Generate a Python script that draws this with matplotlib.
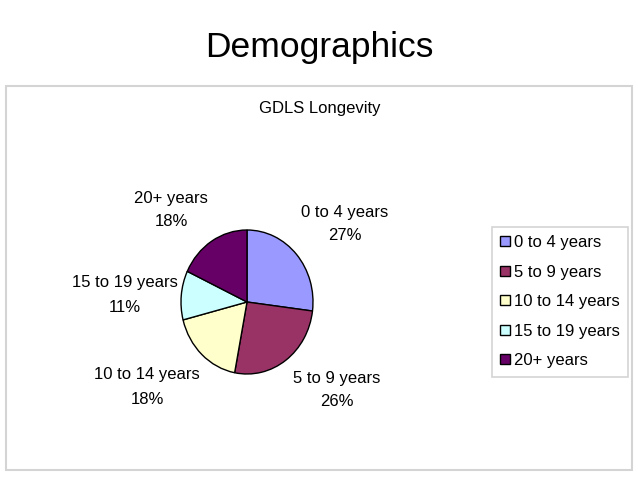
import matplotlib
matplotlib.use("Agg")
import matplotlib.pyplot as plt
from matplotlib.patches import Rectangle

plt.rcParams['font.family'] = ['Liberation Sans', 'DejaVu Sans']

# ---- data ----
categories = ["0 to 4 years", "5 to 9 years", "10 to 14 years", "15 to 19 years", "20+ years"]
percentages = [27, 26, 18, 11, 18]
colors = ["#9999FF", "#993366", "#FFFFCC", "#CCFFFF", "#660066"]
title = "Demographics"
subtitle = "GDLS Longevity"

# ---- layout (pixel coordinates in a 638x478 canvas) ----
W, H = 638, 478
label_centers = [(345, 224), (337, 390), (147, 387), (125, 295), (171, 210)]
pie_center = (247, 302)
pie_rx, pie_ry = 66, 72

def fx(x):
    return x / W

def fy(y):
    return 1 - y / H

fig = plt.figure(figsize=(6.38, 4.78), dpi=100)
fig.patch.set_facecolor("white")

# outer chart frame
fig.patches.append(Rectangle((fx(6), fy(470)), fx(632) - fx(6), fy(86) - fy(470),
                             transform=fig.transFigure, fill=False,
                             edgecolor="#d4d4d4", linewidth=1.5))

fig.text(fx(319), fy(48), title, ha="center", va="center", fontsize=25.5)
fig.text(fx(320), fy(108), subtitle, ha="center", va="center", fontsize=12)

ax = fig.add_axes([fx(pie_center[0] - pie_rx), fy(pie_center[1] + pie_ry),
                   2 * pie_rx / W, 2 * pie_ry / H])
wedges, _ = ax.pie(percentages, colors=colors, startangle=90, counterclock=False,
                   wedgeprops=dict(edgecolor="black", linewidth=1.0))
ax.set_aspect("auto")
ax.set_xlim(-1, 1)
ax.set_ylim(-1, 1)
ax.axis("off")

for cat, pct, (lx, ly) in zip(categories, percentages, label_centers):
    fig.text(fx(lx), fy(ly), f"{cat}\n{pct}%", ha="center", va="center",
             fontsize=12, linespacing=1.75, multialignment="center")

leg = fig.legend(wedges, categories, loc="upper left",
                 bbox_to_anchor=(fx(492), fy(227)),
                 bbox_transform=fig.transFigure,
                 fontsize=12, frameon=True, fancybox=False, framealpha=1,
                 edgecolor="#d4d4d4", handlelength=0.55, handleheight=0.55,
                 handletextpad=0.25, labelspacing=0.87, borderpad=0.5,
                 borderaxespad=0)
leg.get_frame().set_linewidth(1.2)

fig.savefig("out.png", dpi=100)
